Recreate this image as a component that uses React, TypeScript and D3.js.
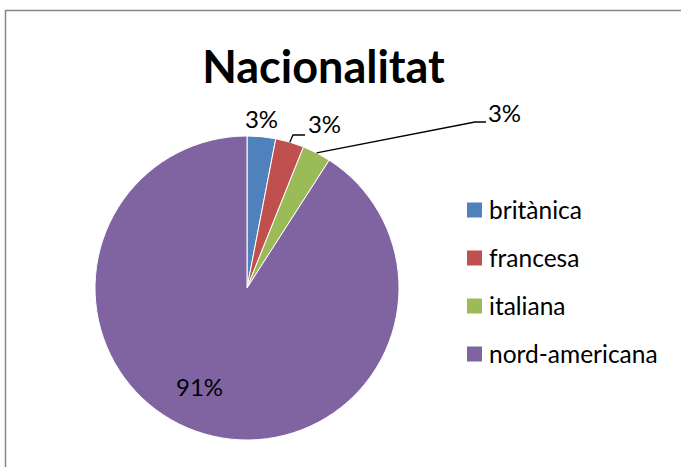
import { useEffect, useRef } from "react";
import * as d3 from "d3";

const categories = ["britànica", "francesa", "italiana", "nord-americana"];
const values = [1, 1, 1, 30];
const colors = ["#4F81BD", "#C0504D", "#9BBB59", "#8064A2"];
const title = "Nacionalitat";

const App = () => {
  const svgRef = useRef<SVGSVGElement | null>(null);
  const width = 681;
  const height = 467;
  const cx = 247;
  const cy = 288;
  const radius = 152;
  const font = "Lato, 'Liberation Sans', sans-serif";

  useEffect(() => {
    const svg = d3.select(svgRef.current);
    svg.selectAll("*").remove();

    // chart border (runs past the right / bottom edge)
    svg
      .append("rect")
      .attr("x", 5.5)
      .attr("y", 10.5)
      .attr("width", 720)
      .attr("height", 520)
      .attr("fill", "white")
      .attr("stroke", "#868686")
      .attr("stroke-width", 1.5);

    // Title
    svg
      .append("text")
      .attr("x", 323.5)
      .attr("y", 83)
      .attr("text-anchor", "middle")
      .style("font-family", font)
      .style("font-weight", "bold")
      .style("font-size", "45px")
      .text(title);

    const total = d3.sum(values);
    const pie = d3.pie<number>().sort(null).value((d) => d);
    const arcs = pie(values);
    const arc = d3.arc<d3.PieArcDatum<number>>().innerRadius(0).outerRadius(radius);

    const g = svg.append("g").attr("transform", `translate(${cx},${cy})`);

    g.selectAll("path")
      .data(arcs)
      .enter()
      .append("path")
      .attr("d", arc)
      .attr("fill", (d, i) => colors[i])
      .attr("stroke", "white")
      .attr("stroke-width", 1);

    // label placement (Excel moved some labels by hand), baseline coords
    const labelPos = [
      [14.5, -160],
      [77.5, -155],
      [257.5, -166],
      [-47.5, 108],
    ];
    // leader: elbow x, elbow y, end x
    const leader = [null, [46, -153, 58], [228, -166, 239], null];

    arcs.forEach((d, i) => {
      const pct = d3.format(".0%")(d.value / total);
      const mid = (d.startAngle + d.endAngle) / 2;
      const l = leader[i];
      if (l) {
        const sx = Math.sin(mid) * radius;
        const sy = -Math.cos(mid) * radius;
        const pts: [number, number][] = [
          [sx, sy],
          [l[0], l[1]],
          [l[2], l[1]],
        ];
        g.append("path")
          .attr("d", d3.line()(pts))
          .attr("fill", "none")
          .attr("stroke", "black")
          .attr("stroke-width", 1.3);
      }
      g.append("text")
        .attr("x", labelPos[i][0])
        .attr("y", labelPos[i][1])
        .attr("text-anchor", "middle")
        .style("font-family", font)
        .style("font-size", "24px")
        .text(pct);
    });

    // Legend
    const legend = svg
      .append("g")
      .selectAll("g")
      .data(categories)
      .enter()
      .append("g")
      .attr("transform", (d, i) => `translate(467, ${210 + i * 48})`);

    legend
      .append("rect")
      .attr("x", 0)
      .attr("y", -7.5)
      .attr("width", 15)
      .attr("height", 15)
      .attr("fill", (d, i) => colors[i]);

    legend
      .append("text")
      .attr("x", 22)
      .attr("y", 8.5)
      .style("font-family", font)
      .style("font-size", "24.5px")
      .text((d) => d);
  }, []);

  return (
    <svg
      ref={svgRef}
      width={width}
      height={height}
      style={{ position: "absolute", left: 0, top: 0 }}
    ></svg>
  );
};

export default App;
